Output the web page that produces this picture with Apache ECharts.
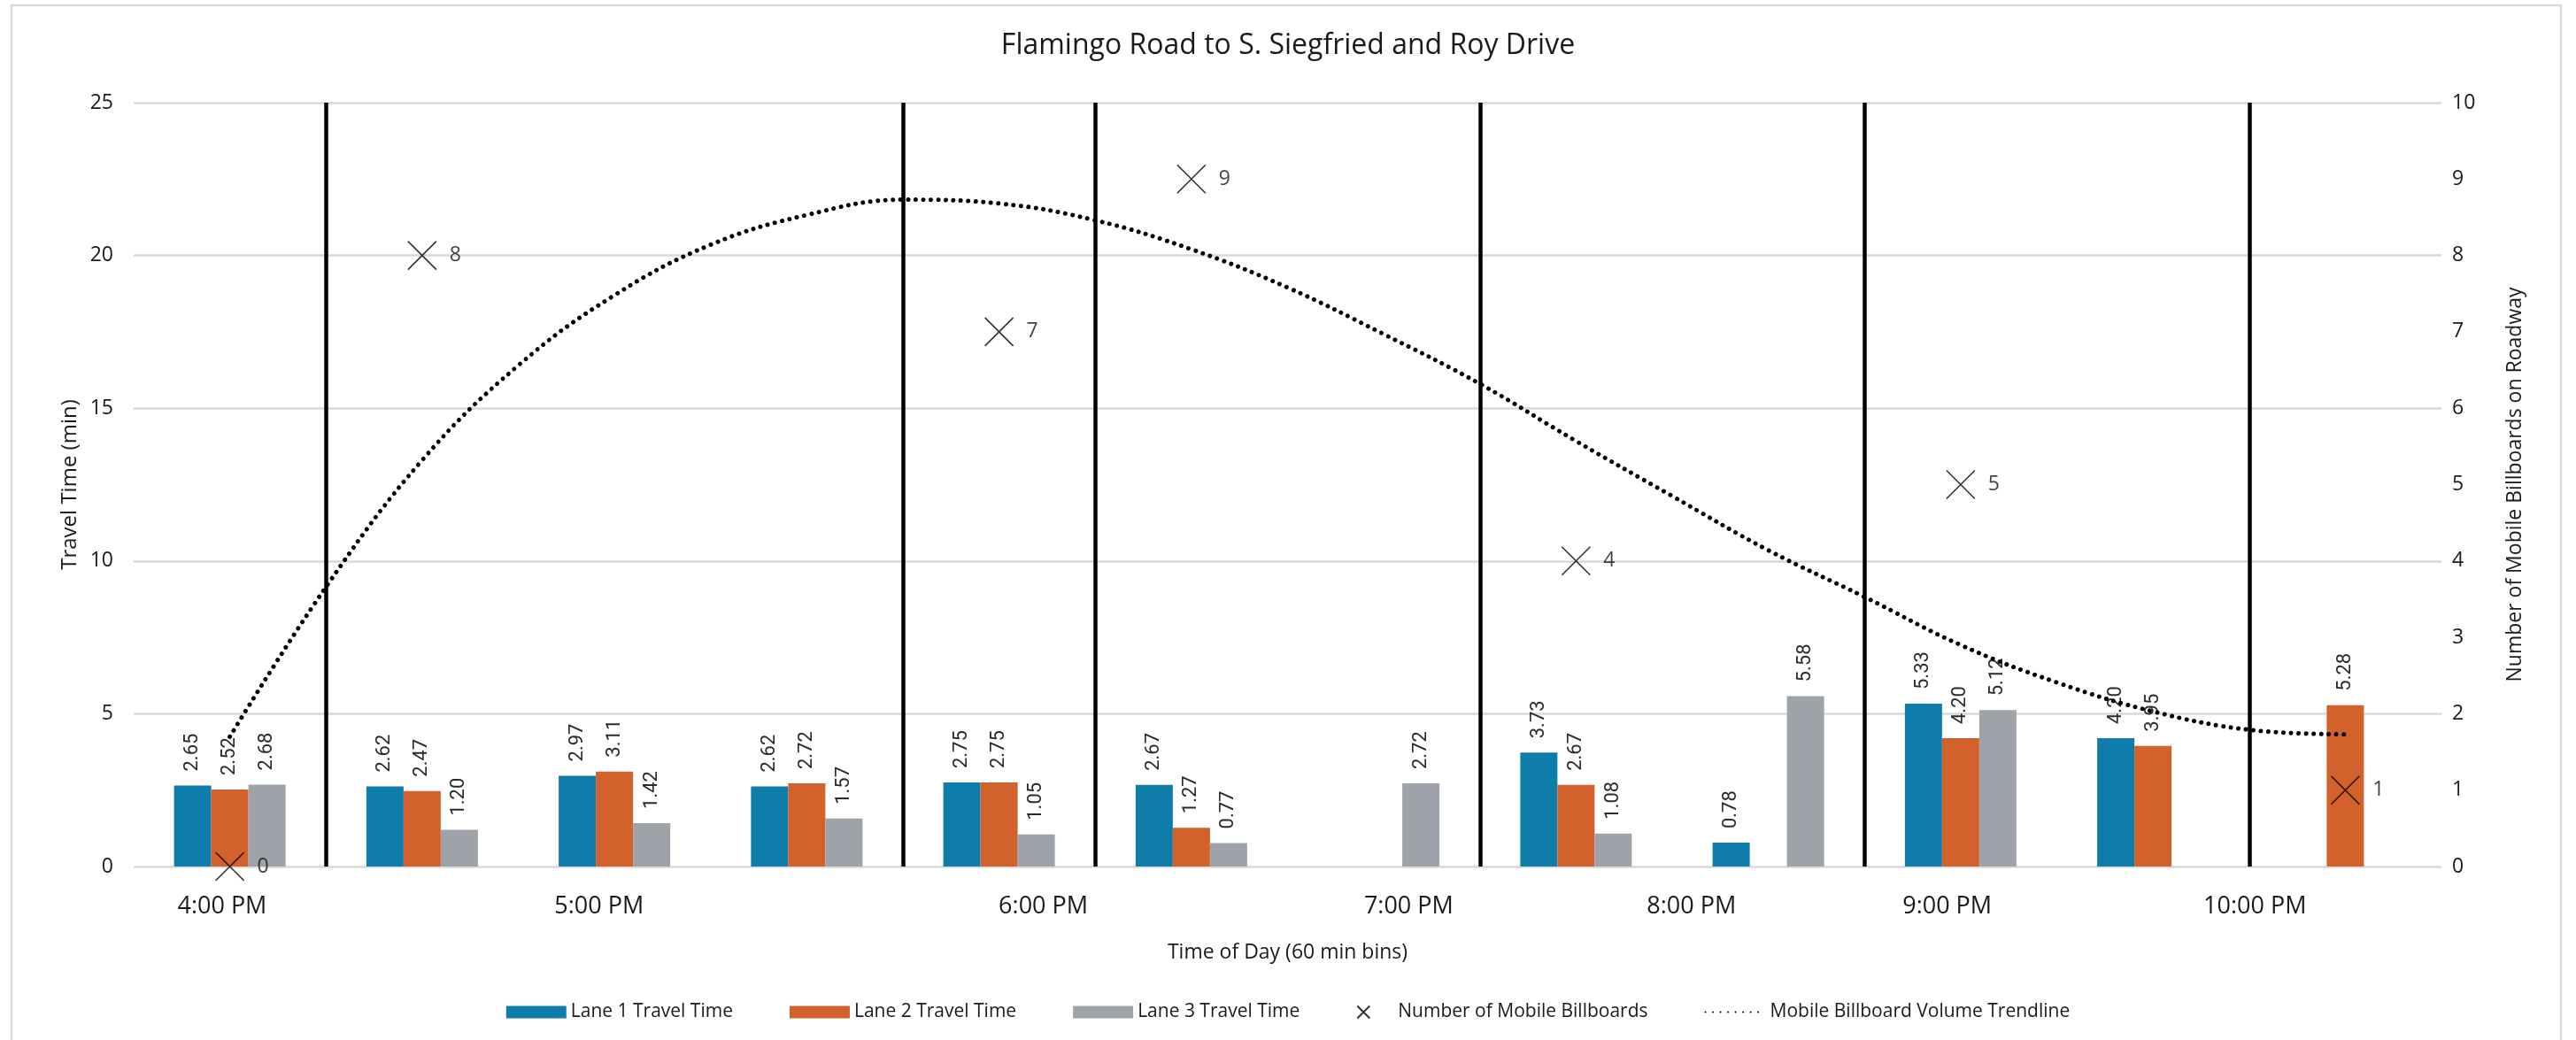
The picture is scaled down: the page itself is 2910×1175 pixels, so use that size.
<!DOCTYPE html>
<html>
<head>
<meta charset="utf-8">
<script src="https://cdn.jsdelivr.net/npm/echarts@6/dist/echarts.min.js"></script>
<style>
  html, body { margin: 0; padding: 0; background: #fff; }
  #chart { width: 2910px; height: 1175px; }
</style>
</head>
<body>
<div id="chart"></div>
<script>
// ---- Data ----
const categories = ['Bin 1','Bin 2','Bin 3','Bin 4','Bin 5','Bin 6','Bin 7','Bin 8','Bin 9','Bin 10','Bin 11','Bin 12'];
const lane1 = [2.65, 2.62, 2.97, 2.62, 2.75, 2.67, null, 3.73, 0.78, 5.33, 4.20, null];
const lane2 = [2.52, 2.47, 3.11, 2.72, 2.75, 1.27, null, 2.67, null, 4.20, 3.95, 5.28];
const lane3 = [2.68, 1.20, 1.42, 1.57, 1.05, 0.77, 2.72, 1.08, 5.58, 5.12, null, null];
const billboards = [0, 8, null, null, 7, 9, null, 4, null, 5, null, 1];
// trendline (x in bin units, 0 = first bin)
const trendX = [0, 0.5, 1, 1.5, 2, 2.5, 3, 3.5, 4, 4.5, 5, 5.5, 6, 6.5, 7, 7.5, 8, 8.5, 9, 9.5, 10, 10.5, 11];
const trendY = [1.70, 3.66, 5.32, 6.56, 7.48, 8.14, 8.53, 8.73, 8.68, 8.46, 8.08, 7.58, 6.97, 6.32, 5.57, 4.85, 4.14, 3.53, 2.90, 2.41, 2.03, 1.79, 1.73];
// hour labels and their positions along the bins
const hourLabels = ['4:00 PM', '5:00 PM', '6:00 PM', '7:00 PM', '8:00 PM', '9:00 PM', '10:00 PM'];
const hourLabelPositions = [-0.04, 1.92, 4.23, 6.13, 7.60, 8.93, 10.53];
const hourDividers = [0.5, 3.5, 4.5, 6.5, 8.5, 10.5];
const leftTicks = { min: 0, max: 25, interval: 5 };
const rightTicks = { min: 0, max: 10, interval: 1 };

// ---- Styles ----
const FONT = "'Open Sans', 'Noto Sans', sans-serif";
const TXT = '#1a1a1a';
const colors = { lane1: '#0F7DAA', lane2: '#D2612B', lane3: '#9EA3A9' };
const X_PATH = 'path://M0,0L10,10M10,0L0,10';

function barLabel() {
  return {
    show: true, position: 'top', rotate: 90, align: 'left', verticalAlign: 'middle',
    distance: 16, fontFamily: 'Roboto, sans-serif', fontSize: 22, color: '#2b2b2b',
    formatter: p => (p.value == null ? '' : Number(p.value).toFixed(2))
  };
}
function barSeries(name, data, color) {
  return {
    name, type: 'bar', xAxisIndex: 0, yAxisIndex: 0, data,
    barGap: '0%', barCategoryGap: '42%',
    itemStyle: { color },
    label: barLabel(),
    emphasis: { disabled: true }
  };
}

const chart = echarts.init(document.getElementById('chart'), null, { renderer: 'canvas' });
chart.setOption({
  animation: false,
  backgroundColor: '#ffffff',
  title: {
    text: 'Flamingo Road to S. Siegfried and Roy Drive',
    left: 'center', top: 31,
    textStyle: { fontFamily: FONT, fontSize: 32, fontWeight: 'normal', color: TXT }
  },
  graphic: [{
    type: 'rect', silent: true, z: -10,
    shape: { x: 13, y: 6, width: 2880, height: 1185 },
    style: { fill: 'none', stroke: '#D9D9D9', lineWidth: 2.5 }
  }],
  grid: { left: 151, right: 152, top: 116, bottom: 196 },
  legend: {
    top: 1128, left: 'center',
    itemWidth: 68, itemHeight: 14, itemGap: 64,
    textStyle: { fontFamily: FONT, fontSize: 21, color: TXT },
    data: [
      { name: 'Lane 1 Travel Time', icon: 'rect' },
      { name: 'Lane 2 Travel Time', icon: 'rect' },
      { name: 'Lane 3 Travel Time', icon: 'rect' },
      { name: 'Number of Mobile Billboards' },
      { name: 'Mobile Billboard Volume Trendline', itemStyle: { opacity: 0 } }
    ]
  },
  xAxis: [
    {
      type: 'category', data: categories, position: 'bottom',
      axisLine: { show: false }, axisTick: { show: false }, axisLabel: { show: false },
      splitLine: { show: false }
    },
    {
      type: 'value', min: -0.5, max: 11.5, position: 'bottom',
      axisLine: { show: false }, axisTick: { show: false }, splitLine: { show: false },
      axisLabel: {
        customValues: hourLabelPositions,
        formatter: v => {
          const i = hourLabelPositions.findIndex(p => Math.abs(p - v) < 1e-6);
          return i >= 0 ? hourLabels[i] : '';
        },
        margin: 32, fontFamily: FONT, fontSize: 27, color: TXT
      },
      name: 'Time of Day (60 min bins)', nameLocation: 'middle', nameGap: 86,
      nameTextStyle: { fontFamily: FONT, fontSize: 23, color: TXT }
    }
  ],
  yAxis: [
    {
      type: 'value', position: 'left', ...leftTicks,
      axisLine: { show: false }, axisTick: { show: false },
      splitLine: { show: true, lineStyle: { color: '#D9D9D9', width: 2.5 } },
      axisLabel: { margin: 23, fontFamily: FONT, fontSize: 23, color: TXT },
      name: 'Travel Time (min)', nameLocation: 'middle', nameRotate: 90, nameGap: 58,
      nameTextStyle: { fontFamily: FONT, fontSize: 24, color: TXT }
    },
    {
      type: 'value', position: 'right', ...rightTicks,
      axisLine: { show: false }, axisTick: { show: false }, splitLine: { show: false },
      axisLabel: { margin: 12, fontFamily: FONT, fontSize: 23, color: TXT },
      name: 'Number of Mobile Billboards on Roadway', nameLocation: 'middle', nameRotate: 90, nameGap: 72,
      nameTextStyle: { fontFamily: FONT, fontSize: 23, color: TXT }
    }
  ],
  series: [
    barSeries('Lane 1 Travel Time', lane1, colors.lane1),
    barSeries('Lane 2 Travel Time', lane2, colors.lane2),
    barSeries('Lane 3 Travel Time', lane3, colors.lane3),
    {
      name: 'Number of Mobile Billboards', type: 'scatter', xAxisIndex: 0, yAxisIndex: 1,
      data: billboards, symbol: X_PATH, symbolSize: 32, symbolKeepAspect: true, z: 5,
      itemStyle: { color: 'rgba(0,0,0,0)', borderColor: '#000000', borderWidth: 1.6 },
      label: { show: true, position: 'right', distance: 14, fontFamily: FONT, fontSize: 23, color: '#111111',
               formatter: p => String(p.value) },
      emphasis: { disabled: true }
    },
    {
      name: 'Mobile Billboard Volume Trendline', type: 'line', xAxisIndex: 1, yAxisIndex: 1,
      data: trendX.map((x, i) => [x, trendY[i]]),
      smooth: 0.4, symbol: 'none', z: 6,
      lineStyle: { color: '#000000', width: 5, type: [0.01, 8.5], cap: 'round' },
      itemStyle: { color: '#000000' },
      emphasis: { disabled: true },
      markLine: {
        silent: true, symbol: ['none', 'none'], label: { show: false },
        lineStyle: { color: '#000000', width: 4.5, type: 'solid' },
        emphasis: { disabled: true },
        data: hourDividers.map(v => ({ xAxis: v }))
      }
    }
  ]
});
</script>
</body>
</html>
